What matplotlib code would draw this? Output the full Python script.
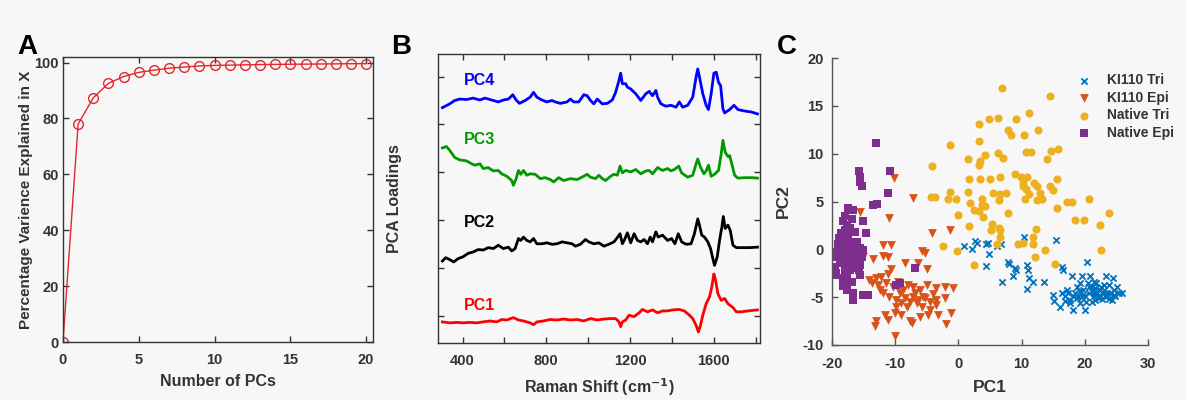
import matplotlib
matplotlib.use("Agg")
import matplotlib.pyplot as plt

plt.rcParams['font.family'] = ['Liberation Sans', 'DejaVu Sans']
plt.rcParams['font.weight'] = 'bold'
plt.rcParams['axes.labelweight'] = 'bold'
plt.rcParams['axes.unicode_minus'] = False

BG = "#f7f7f7"
DARK = "#333333"

# -------- Panel A: cumulative variance --------
n_pcs = list(range(0, 21))
var_explained = [0, 78, 87.4, 92.6, 95.0, 96.5, 97.3, 98.0, 98.4, 98.8, 99.0,
                 99.1, 99.2, 99.3, 99.35, 99.4, 99.45, 99.5, 99.55, 99.6, 99.6]

# -------- Panel B: PCA loadings (offset for display) --------
pc4_shift = [304, 339, 363, 387, 419, 451, 483, 507, 539, 571, 595, 619, 640, 656, 672,
             699, 723, 739, 755, 779, 803, 827, 843, 867, 899, 915, 931, 955, 979, 995,
             1011, 1027, 1043, 1067, 1091, 1115, 1131, 1147, 1155, 1163, 1179, 1187, 1203,
             1227, 1251, 1275, 1291, 1307, 1323, 1331, 1347, 1371, 1395, 1419, 1435, 1451,
             1475, 1499, 1515, 1523, 1531, 1547, 1563, 1574, 1587, 1600, 1611, 1622, 1632,
             1643, 1651, 1675, 1696, 1715, 1747, 1779, 1808]
pc4_load = [4.35, 4.43, 4.50, 4.53, 4.52, 4.55, 4.51, 4.55, 4.51, 4.47, 4.51, 4.53, 4.62,
            4.51, 4.44, 4.50, 4.57, 4.67, 4.57, 4.51, 4.47, 4.50, 4.47, 4.44, 4.47, 4.53,
            4.47, 4.47, 4.62, 4.60, 4.50, 4.43, 4.53, 4.43, 4.44, 4.51, 4.67, 4.92, 5.07,
            4.85, 4.85, 4.78, 4.74, 4.64, 4.50, 4.64, 4.69, 4.60, 4.71, 4.57, 4.43, 4.38,
            4.40, 4.36, 4.47, 4.36, 4.40, 4.57, 4.99, 5.16, 4.99, 4.64, 4.40, 4.31, 4.64,
            5.07, 5.09, 4.88, 4.81, 4.33, 4.24, 4.31, 4.40, 4.31, 4.28, 4.26, 4.22]

pc3_shift = [304, 323, 339, 363, 387, 419, 443, 459, 483, 499, 523, 547, 571, 587, 611,
             635, 643, 656, 667, 678, 691, 707, 723, 747, 771, 795, 819, 835, 859, 883,
             915, 947, 979, 995, 1011, 1035, 1051, 1067, 1083, 1107, 1123, 1139, 1152,
             1163, 1179, 1203, 1227, 1251, 1275, 1291, 1307, 1331, 1355, 1379, 1395, 1411,
             1432, 1446, 1475, 1499, 1515, 1523, 1536, 1552, 1563, 1574, 1587, 1603, 1622,
             1635, 1643, 1654, 1667, 1675, 1683, 1699, 1715, 1747, 1779, 1808]
pc3_load = [3.51, 3.54, 3.46, 3.31, 3.26, 3.24, 3.18, 3.15, 3.18, 3.08, 3.10, 3.03, 3.04,
            2.97, 2.92, 2.83, 2.73, 2.87, 3.04, 2.96, 3.04, 2.94, 2.97, 2.96, 2.87, 2.89,
            2.85, 2.80, 2.89, 2.83, 2.87, 2.85, 2.92, 2.96, 2.90, 2.87, 2.94, 2.87, 2.83,
            2.92, 2.96, 2.94, 3.13, 2.99, 3.04, 3.01, 3.06, 2.97, 3.03, 3.04, 2.97, 3.10,
            3.04, 3.08, 3.03, 3.06, 3.13, 2.99, 2.90, 2.94, 3.18, 3.28, 3.11, 2.97, 3.03,
            3.15, 2.92, 2.96, 3.04, 3.39, 3.67, 3.42, 3.33, 3.35, 3.22, 2.94, 2.88, 2.89,
            2.89, 2.88]

pc2_shift = [304, 320, 339, 358, 379, 403, 427, 451, 475, 499, 523, 547, 571, 595, 619,
             635, 651, 667, 678, 691, 707, 723, 739, 755, 779, 803, 827, 851, 875, 899,
             923, 939, 963, 987, 1003, 1027, 1051, 1075, 1099, 1123, 1139, 1152, 1163, 1174,
             1187, 1203, 1219, 1235, 1251, 1267, 1283, 1296, 1307, 1323, 1334, 1355, 1379,
             1398, 1414, 1430, 1446, 1467, 1491, 1507, 1523, 1531, 1542, 1555, 1571, 1584,
             1595, 1603, 1616, 1627, 1638, 1645, 1654, 1667, 1678, 1691, 1707, 1739, 1771,
             1808]
pc2_load = [1.15, 1.22, 1.18, 1.13, 1.20, 1.24, 1.31, 1.34, 1.39, 1.38, 1.43, 1.41, 1.48,
            1.41, 1.44, 1.36, 1.41, 1.62, 1.58, 1.65, 1.58, 1.55, 1.62, 1.51, 1.51, 1.53,
            1.50, 1.51, 1.55, 1.53, 1.51, 1.46, 1.50, 1.60, 1.55, 1.51, 1.53, 1.46, 1.50,
            1.55, 1.64, 1.72, 1.51, 1.60, 1.74, 1.53, 1.72, 1.58, 1.55, 1.60, 1.51, 1.65,
            1.55, 1.76, 1.65, 1.69, 1.58, 1.62, 1.51, 1.72, 1.55, 1.50, 1.51, 1.72, 2.03,
            1.90, 1.69, 1.65, 1.55, 1.41, 1.20, 1.06, 1.24, 1.58, 1.86, 2.08, 1.83, 1.90,
            1.79, 1.48, 1.43, 1.43, 1.43, 1.44]

pc1_shift = [304, 339, 371, 403, 435, 467, 499, 531, 563, 587, 611, 643, 667, 691, 723,
             739, 755, 787, 819, 851, 883, 915, 947, 979, 1011, 1043, 1075, 1107, 1131,
             1147, 1155, 1163, 1179, 1195, 1219, 1243, 1259, 1283, 1307, 1331, 1355, 1379,
             1403, 1435, 1459, 1483, 1499, 1515, 1526, 1536, 1547, 1563, 1579, 1590, 1600,
             1608, 1619, 1635, 1651, 1667, 1691, 1707, 1731, 1763, 1808]
pc1_load = [-0.12, -0.14, -0.13, -0.14, -0.13, -0.14, -0.12, -0.10, -0.12, -0.07, -0.08,
            -0.03, -0.08, -0.10, -0.14, -0.18, -0.12, -0.10, -0.07, -0.08, -0.06, -0.08,
            -0.07, -0.10, -0.05, -0.08, -0.06, -0.05, -0.05, -0.12, -0.22, -0.12, -0.08,
            0.02, -0.01, 0.07, 0.14, 0.09, 0.13, 0.07, 0.11, 0.11, 0.13, 0.14, 0.11, 0.02,
            -0.05, -0.19, -0.33, -0.19, 0.02, 0.26, 0.40, 0.61, 0.88, 0.75, 0.47, 0.33,
            0.37, 0.26, 0.18, 0.09, 0.09, 0.11, 0.13]

pc_names = ["PC4", "PC3", "PC2", "PC1"]
pc_colors = ["#0000ff", "#009900", "#000000", "#ff0000"]
pc_label_y = [4.92, 3.69, 1.96, 0.23]

# -------- Panel C: scores --------
ki_tri_pc1 = [0.9, 2.2, 2.6, 2.9, 4.3, 4.7, 4.8, 4.3, 6.1, 6.7, 6.9, 7.9, 8.0, 8.6, 9.0, 9.2,
              10.4, 10.8, 11.0, 10.8, 11.2, 11.8, 13.6, 15.5, 20.4,
              15.0, 15.2, 16.1, 16.4, 16.6, 16.4, 16.8, 17.2, 17.6, 18.0, 18.2, 18.5, 18.7,
              19.0, 19.2, 19.3, 19.5, 19.8, 20.1, 20.2, 20.5, 20.7, 20.8, 21.1, 21.4, 21.5,
              21.8, 22.0, 22.3, 22.5, 22.9, 23.1, 23.4, 23.5, 23.8, 24.0, 24.3, 24.4, 24.7,
              25.1, 25.9, 23.9, 22.7, 21.1, 18.2, 17.4, 19.5, 21.7, 21.4, 19.3, 20.6, 22.2,
              23.2, 23.6, 22.4, 20.1, 18.7, 17.7, 16.9, 24.6, 25.4, 21.6, 23.0, 24.8, 21.4]
ki_tri_pc2 = [0.4, 0.0, 0.9, 0.7, 0.6, 0.7, -0.5, -1.7, 0.3, 0.6, -3.4, -1.3, -1.5, -2.8,
              -1.9, -2.2, 1.3, -1.6, -2.2, -4.1, -3.0, -3.4, -3.4, 1.0, -1.3,
              -4.8, -5.4, -6.0, -1.8, -2.2, -4.6, -4.9, -4.2, -5.6, -2.8, -6.3, -4.6, -3.9,
              -4.9, -3.5, -5.6, -2.8, -4.2, -6.3, -5.5, -3.5, -4.6, -2.8, -3.9, -4.9, -4.2,
              -3.5, -4.6, -5.1, -3.9, -4.6, -4.2, -2.8, -4.9, -3.7, -4.6, -5.3, -3.0, -4.2,
              -3.9, -4.6, -5.2, -5.2, -5.5, -4.9, -4.6, -4.9, -4.0, -3.4, -4.4, -3.9, -4.8,
              -4.9, -4.6, -4.2, -4.9, -5.1, -5.3, -5.4, -4.8, -4.6, -5.3, -3.7, -4.9, -4.6]

ki_epi_pc1 = [-10.2, -7.2, -11.0, -15.6, -4.25, -1.34, -15.1, -12.0, -10.7, -5.8, -5.3,
              -13.5, -12.0, -11.1, -6.4, -8.5, -10.6, -4.9, -14.2, -13.0, -12.2, -11.1,
              -13.7, -12.7, -11.4, -10.3, -9.5, -7.9, -7.2, -6.1, -5.0, -3.5, -2.1, -0.8,
              -11.9, -10.9, -9.3, -8.5, -7.2, -6.4, -5.3, -4.5, -3.6, -6.6, -7.7, -9.0,
              -9.8, -8.2, -5.8, -4.5, -3.5, -2.1, -10.1, -11.6, -11.1, -9.0, -7.7, -6.1,
              -4.8, -3.2, -1.1, -13.0, -13.2, -7.4, -1.9, -10.1, -8.8, -6.9, -5.6, -9.9,
              -12.4, -4.0]
ki_epi_pc2 = [7.44, 5.35, 3.25, 3.95, 1.68, 2.03, -0.76, 0.46, 0.46, -0.13, -0.34, -1.04,
              -0.69, -0.83, -1.45, -1.45, -2.08, -2.01, -3.20, -3.02, -2.85, -2.57, -3.55,
              -3.72, -3.55, -3.90, -3.37, -3.72, -3.90, -4.24, -3.72, -4.07, -3.90, -4.07,
              -4.59, -4.94, -4.59, -5.12, -4.94, -5.29, -5.12, -5.47, -5.29, -5.64, -5.47,
              -5.64, -5.99, -5.99, -5.99, -6.34, -5.81, -5.12, -6.69, -6.86, -7.38, -6.86,
              -7.45, -7.04, -6.86, -6.86, -6.69, -7.49, -8.01, -7.73, -7.80, -9.06, -4.2,
              -4.6, -5.0, -5.3, -4.2, -4.7]

nat_tri_pc1 = [6.85, 14.5, 11.2, 4.8, 3.3, 6.3, 9.1, 12.6, 7.9, 8.3, 10.4, -1.34, 3.3, 14.6,
               15.7, 6.3, 10.7, 11.5, 4.2, 1.6, 3.4, 7.1, 14.0, -4.2, 3.2, 1.7, 6.6, 9.0, 9.9,
               10.8, 15.6, 3.4, 5.0, 10.3, 11.9, 12.5, 14.5, 15.0, 10.3, 10.7, -1.4, 1.6, 5.5,
               6.6, 7.6, 11.1, 12.9, -4.4, -3.7, -1.6, -0.3, 3.7, 6.4, 10.5, 12.4, 13.2, 17.2,
               18.0, 20.6, 1.9, 3.7, 4.2, 2.4, 3.2, 15.6, 23.9, 7.9, -0.1, 3.9, 18.5, 19.9,
               5.4, 1.7, 6.5, 22.4, 12.3, 5.2, -2.5, -0.2, 2.4, 22.5, 6.1, 9.5, 10.3, 11.8,
               11.8, 12.1, 13.7, 15.3, 6.6, 6.6]
nat_tri_pc2 = [16.86, 16.0, 14.3, 13.6, 13.1, 13.7, 13.6, 12.5, 12.5, 12.0, 11.9, 10.9, 11.3,
               10.3, 10.5, 10.1, 10.2, 10.2, 9.9, 9.4, 9.2, 9.5, 9.4, 8.7, 8.8, 7.4, 7.6, 7.9,
               7.6, 7.6, 7.4, 7.3, 7.3, 6.9, 6.9, 6.6, 6.6, 6.2, 6.6, 6.3, 6.0, 6.0, 5.9, 5.8,
               5.9, 5.8, 5.9, 5.5, 5.5, 5.3, 5.3, 5.3, 5.2, 5.3, 5.2, 5.3, 5.0, 5.0, 5.3, 4.8,
               4.6, 4.5, 4.1, 4.0, 4.3, 3.8, 3.8, 3.6, 3.4, 3.1, 3.1, 2.7, 2.4, 2.2, 2.5, 2.1,
               2.0, 0.3, -0.2, -1.6, -0.1, 0.6, 0.6, 0.7, 1.3, 0.6, -0.8, -0.1, -1.5, 1.3, 2.0]

nat_epi_pc1 = [-15.7, -15.5, -15.6, -15.3, -10.8, -11.1, -13.5, -12.9, -17.5, -16.7, -15.1,
               -18.3, -17.7, -18.0, -17.2, -18.5, -17.5, -16.4, -14.6, -18.3, -17.2, -18.8,
               -17.7, -16.7, -15.6, -19.3, -18.3, -17.2, -16.1, -15.1, -19.6, -18.5, -17.5,
               -16.4, -15.3, -18.8, -17.7, -16.7, -15.6, -19.3, -18.0, -17.2, -16.1, -18.3,
               -18.0, -17.7, -15.6, -15.1, -14.3, -16.6, -9.3, -9.8, -6.9, -13.1, -16.6,
               -15.1, -16.6, -19.8, -19.3, -18.9, -17.9, -16.9, -18.6, -17.0, -16.0, -19.0,
               -17.6, -16.8, -18.2, -15.8, -19.5]
nat_epi_pc2 = [8.14, 7.61, 7.09, 6.57, 8.14, 5.87, 4.65, 4.75, 4.30, 4.13, 2.91, 2.91, 2.56,
               2.03, 2.21, 1.68, 1.51, 1.86, 1.68, 0.99, 0.81, 0.29, 0.29, 0.29, 0.12, -0.23,
               -0.41, -0.23, -0.41, -0.06, -0.76, -0.76, -0.93, -0.93, -0.76, -1.45, -1.63,
               -1.45, -1.63, -2.50, -2.15, -2.15, -1.98, -3.02, -3.55, -4.24, -2.68, -4.77,
               -4.77, -5.29, -3.48, -3.72, -1.98, 11.1, -4.6, -4.8, -5.3, -0.76, -2.7, 1.2,
               3.5, 3.2, -1.1, -0.6, 0.8, 0.6, -2.9, -3.4, -3.8, -2.2, -1.8]

fig = plt.figure(figsize=(11.86, 4.0), dpi=100, facecolor=BG)


def style_axes(ax, box=True, spine_color=DARK, xpad=8, ypad=4):
    ax.set_facecolor(BG)
    for side in ["top", "right", "left", "bottom"]:
        ax.spines[side].set_color(spine_color)
        ax.spines[side].set_linewidth(1.0)
    if not box:
        ax.spines["top"].set_visible(False)
        ax.spines["right"].set_visible(False)
    ax.tick_params(direction="in", length=4, width=1, colors=spine_color,
                   labelcolor=DARK, labelsize=10.5, top=box, right=box)
    ax.tick_params(axis="x", pad=xpad)
    ax.tick_params(axis="y", pad=ypad)
    for lab in ax.get_xticklabels() + ax.get_yticklabels():
        lab.set_fontweight("bold")


# -------- A --------
axA = fig.add_axes([0.0531, 0.145, 0.2614, 0.7125])
axA.plot(n_pcs, var_explained, color="#e3262b", lw=1.0, marker="o", ms=7,
         mfc="none", mec="#e3262b", mew=1.0)
axA.set_xlim(0, 20.45)
axA.set_ylim(0, 102)
axA.set_xticks([0, 5, 10, 15, 20])
axA.set_yticks([0, 20, 40, 60, 80, 100])
axA.set_xlabel("Number of PCs", fontsize=11.5, color=DARK, labelpad=5)
axA.set_ylabel("Percentage Varience Explained in X", fontsize=11, color=DARK, labelpad=1)
style_axes(axA, xpad=8, ypad=3)

# -------- B --------
axB = fig.add_axes([0.3693, 0.1425, 0.2715, 0.7225])
shifts = [pc4_shift, pc3_shift, pc2_shift, pc1_shift]
loads = [pc4_load, pc3_load, pc2_load, pc1_load]
for sx, ld, nm, col, ly in zip(shifts, loads, pc_names, pc_colors, pc_label_y):
    axB.plot(sx, ld, color=col, lw=2.0)
    axB.text(483, ly, nm, color=col, fontsize=11.5, fontweight="bold", ha="center", va="center")
axB.set_xlim(283, 1820)
axB.set_ylim(-0.56, 5.47)
axB.set_xticks(range(400, 1801, 200))
axB.set_xticklabels(["400", "", "800", "", "1200", "", "1600", ""])
axB.set_yticks([0, 1, 2, 3, 4, 5])
axB.set_yticklabels([])
axB.set_xlabel("Raman Shift (cm$^{\\mathbf{-1}}$)", fontsize=11.5, color=DARK, labelpad=6)
axB.set_ylabel("PCA Loadings", fontsize=11.5, color=DARK, labelpad=22)
style_axes(axB, xpad=8)

# -------- C --------
axC = fig.add_axes([0.7015, 0.1375, 0.2664, 0.7175])
axC.scatter(ki_tri_pc1, ki_tri_pc2, marker="x", s=20, color="#0072bd", lw=1.3, label="KI110 Tri")
axC.scatter(ki_epi_pc1, ki_epi_pc2, marker="v", s=40, color="#d95319", lw=0, label="KI110 Epi")
axC.scatter(nat_tri_pc1, nat_tri_pc2, marker="o", s=34, color="#edb120", lw=0, label="Native Tri")
axC.scatter(nat_epi_pc1, nat_epi_pc2, marker="s", s=28, color="#7e2f8e", lw=0, label="Native Epi")
axC.set_xlim(-20, 30)
axC.set_ylim(-10, 20)
axC.set_xticks([-20, -10, 0, 10, 20, 30])
axC.set_yticks([-10, -5, 0, 5, 10, 15, 20])
axC.set_xlabel("PC1", fontsize=12.5, color=DARK, labelpad=6)
axC.set_ylabel("PC2", fontsize=12.5, color=DARK, labelpad=8)
style_axes(axC, box=False, spine_color="#555555", xpad=9, ypad=6)
leg = axC.legend(loc="upper left", bbox_to_anchor=(0.735, 0.99), frameon=False,
                 handletextpad=1.2, labelspacing=0.25, fontsize=10, handlelength=1.0)
for t in leg.get_texts():
    t.set_fontweight("bold")
    t.set_color(DARK)

# -------- Panel letters --------
fig.text(0.0145, 0.865, "A", fontsize=20, fontweight="bold", color="black")
fig.text(0.330, 0.865, "B", fontsize=20, fontweight="bold", color="black")
fig.text(0.655, 0.865, "C", fontsize=20, fontweight="bold", color="black")

fig.savefig("out.png", dpi=100, facecolor=BG)
